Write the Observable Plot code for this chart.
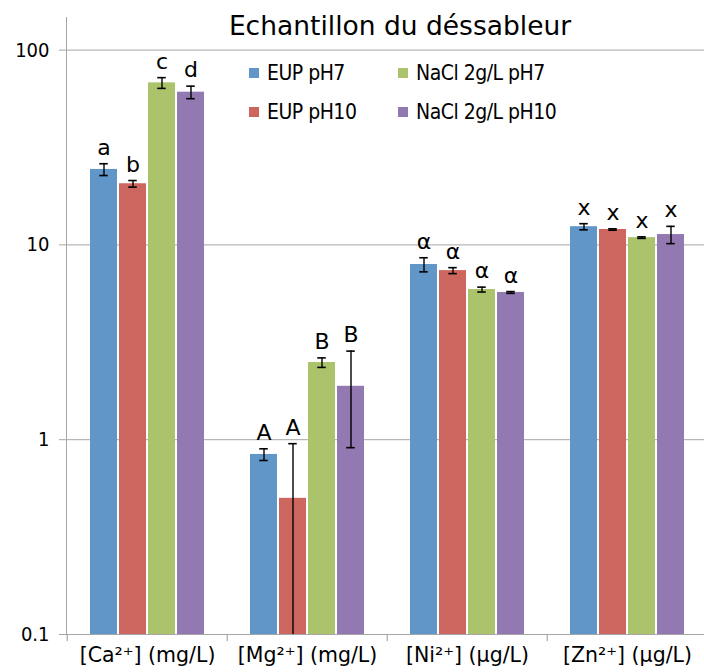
<!DOCTYPE html>
<html><head><meta charset="utf-8">
<script src="https://cdn.jsdelivr.net/npm/d3@7"></script>
<script src="https://cdn.jsdelivr.net/npm/@observablehq/plot@0.6"></script>
<style>
body{margin:0;background:#fff;}
#wrap{position:relative;width:704px;height:672px;overflow:hidden;}
#title{position:absolute;left:200px;width:400px;top:10px;text-align:center;font:26.5px "DejaVu Sans",sans-serif;color:#000;white-space:nowrap;}
.leg{position:absolute;font:21px "DejaVu Sans Condensed","DejaVu Sans",sans-serif;letter-spacing:-0.5px;white-space:nowrap;color:#000;display:flex;align-items:center;}
.leg span.sw{display:inline-block;width:10px;height:10px;margin-right:8px;}
</style></head><body><div id="wrap"><div id="title">Echantillon du déssableur</div></div>
<script>
const categories = ["[Ca²⁺] (mg/L)", "[Mg²⁺] (mg/L)", "[Ni²⁺] (µg/L)", "[Zn²⁺] (µg/L)"];
const series = ["EUP pH7", "EUP pH10", "NaCl 2g/L pH7", "NaCl 2g/L pH10"];
const colors = ["#6096c8", "#cd665f", "#abc46b", "#9279b1"];
const eupPH7 = [24.4, 0.84, 7.93, 12.4];
const eupPH10 = [20.6, 0.50, 7.38, 12.0];
const naclPH7 = [67.9, 2.49, 5.90, 10.9];
const naclPH10 = [60.8, 1.88, 5.70, 11.3];
const eupPH7Err = [1.7, 0.058, 0.66, 0.45];
const eupPH10Err = [0.8, 0.454, 0.26, 0.1];
const naclPH7Err = [4.3, 0.14, 0.17, 0.1];
const naclPH10Err = [4.5, 0.97, 0.06, 1.15];
const eupPH7Sig = ["a", "A", "α", "x"];
const eupPH10Sig = ["b", "A", "α", "x"];
const naclPH7Sig = ["c", "B", "α", "x"];
const naclPH10Sig = ["d", "B", "α", "x"];
const yTicks = [0.1, 1, 10, 100];

const values = [eupPH7, eupPH10, naclPH7, naclPH10];
const errs = [eupPH7Err, eupPH10Err, naclPH7Err, naclPH10Err];
const sigs = [eupPH7Sig, eupPH10Sig, naclPH7Sig, naclPH10Sig];

const W = 704, H = 672, mL = 66, mR = -4, mT = 17, mB = 38;
const yMin = 0.1, yMax = 147;
const bw = (W - mL - mR) / categories.length;
const decadePx = (H - mT - mB) / Math.log10(yMax / yMin);
const barW = 27.5, step = 29, capW = 9, tickLen = 7;
const gray = "#a6a6a6";

const marks = [
  Plot.gridY(yTicks.slice(1), {stroke: gray, strokeOpacity: 1, strokeWidth: 1}),
];
const tables = series.map((s, i) => categories.map((c, j) => ({
  cat: c, series: s, value: values[i][j],
  lo: values[i][j] - errs[i][j], hi: values[i][j] + errs[i][j], sig: sigs[i][j]
})));
tables.forEach((data, i) => {
  const dx = (i - 1.5) * step;
  marks.push(Plot.barY(data, {x: "cat", y1: yMin, y2: "value", fill: colors[i], dx,
    insetLeft: (bw - barW) / 2, insetRight: (bw - barW) / 2}));
});
tables.forEach((data, i) => {
  const dx = (i - 1.5) * step;
  marks.push(Plot.ruleX(data, {x: "cat", y1: d => Math.max(d.lo, 0.05), y2: "hi", dx, stroke: "#000", strokeWidth: 1.4, clip: true}));
  marks.push(Plot.tickY(data, {x: "cat", y: "hi", dx, stroke: "#000", strokeWidth: 1.6,
    insetLeft: (bw - capW) / 2, insetRight: (bw - capW) / 2}));
  marks.push(Plot.tickY(data.filter(d => d.lo > yMin), {x: "cat", y: "lo", dx, stroke: "#000", strokeWidth: 1.6,
    insetLeft: (bw - capW) / 2, insetRight: (bw - capW) / 2}));
  marks.push(Plot.text(data, {x: "cat", y: "hi", text: "sig", dx, dy: -9, lineAnchor: "bottom",
    fontSize: 22, fill: "#000", fontFamily: "DejaVu Sans"}));
});
marks.push(Plot.frame({anchor: "left", stroke: gray}));
marks.push(Plot.frame({anchor: "bottom", stroke: gray}));
// category boundary ticks below the x axis
marks.push(Plot.ruleX(categories, {x: d => d, y1: yMin, y2: yMin * Math.pow(10, -tickLen / decadePx),
  dx: -bw / 2, stroke: gray, strokeWidth: 1.2}));
marks.push(Plot.axisY({ticks: yTicks, tickFormat: d => String(d), tickSize: tickLen, tickPadding: 10,
  stroke: gray, fontSize: 20, fontFamily: "DejaVu Sans Condensed, DejaVu Sans", label: null}));
marks.push(Plot.axisX({tickSize: 0, tickPadding: 13, fontSize: 20.5, label: null}));

const chart = Plot.plot({
  width: W, height: H,
  marginLeft: mL, marginRight: mR, marginTop: mT, marginBottom: mB,
  style: {fontFamily: "DejaVu Sans, sans-serif", background: "#fff", color: "#000", overflow: "visible"},
  x: {type: "band", domain: categories, padding: 0},
  y: {type: "log", domain: [yMin, yMax]},
  marks
});
const wrap = document.getElementById("wrap");
wrap.insertBefore(chart, wrap.firstChild);

const legPos = [[249, 74], [249, 113], [398, 74], [398, 113]];
series.forEach((s, i) => {
  const d = document.createElement("div");
  d.className = "leg";
  d.style.left = legPos[i][0] + "px";
  d.style.top = (legPos[i][1] - 13) + "px";
  d.innerHTML = `<span class="sw" style="background:${colors[i]}"></span>${s}`;
  wrap.appendChild(d);
});
</script></body></html>
